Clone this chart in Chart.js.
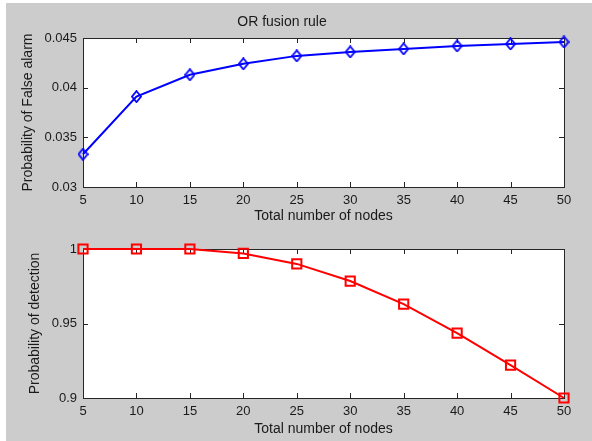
<!DOCTYPE html>
<html>
<head>
<meta charset="utf-8">
<title>OR fusion rule</title>
<script src="https://cdn.jsdelivr.net/npm/chart.js@4.4.0/dist/chart.umd.min.js"></script>
<style>
  html, body { margin: 0; padding: 0; background: #fff; }
  #fig { position: absolute; left: 6px; top: 3px; width: 586px; height: 438px; background: #cccccc; }
  canvas { position: absolute; left: 0; }
  #faChart { top: 0; }
  #pdChart { top: 232px; }
</style>
</head>
<body>
<div id="fig"></div>
<canvas id="faChart" width="592" height="232"></canvas>
<canvas id="pdChart" width="592" height="209"></canvas>
<script>
// number of sensor nodes
const nodes = [5, 10, 15, 20, 25, 30, 35, 40, 45, 50];
// probability of false alarm under the OR rule
const falseAlarm = [0.0333, 0.0391, 0.0413, 0.0424, 0.0432, 0.0436, 0.0439, 0.0442, 0.0444, 0.0446];
// probability of detection under the OR rule
const detection = [1.0, 1.0, 1.0, 0.997, 0.990, 0.9785, 0.963, 0.9435, 0.922, 0.900];

const xTicks = [5, 10, 15, 20, 25, 30, 35, 40, 45, 50];
const faTicks = [0.03, 0.035, 0.04, 0.045];
const pdTicks = [0.9, 0.95, 1];

const FAMILY = "'Liberation Sans', Arial, sans-serif";
const TICK_FONT = { family: FAMILY, size: 13 };
const LABEL_FONT = { family: FAMILY, size: 14, weight: "normal" };
const TEXT = "#1a1a1a";

// hollow diamond marker like MATLAB's 'd'
function diamondMarker(color) {
    const c = document.createElement("canvas");
    c.width = 11; c.height = 13;
    const g = c.getContext("2d");
    g.strokeStyle = color;
    g.lineWidth = 1.8;
    g.beginPath();
    g.moveTo(5.5, 1); g.lineTo(10, 6.5); g.lineTo(5.5, 12); g.lineTo(1, 6.5);
    g.closePath();
    g.stroke();
    return c;
}

// white plot box, frame and inward ticks on all four sides
const matlabAxes = {
    id: "matlabAxes",
    beforeDraw(chart) {
        const { ctx, chartArea: a } = chart;
        ctx.save();
        ctx.fillStyle = "#ffffff";
        ctx.fillRect(a.left, a.top, a.right - a.left, a.bottom - a.top);
        ctx.restore();
    },
    beforeDatasetsDraw(chart) {
        const { ctx, chartArea: a, scales: { x, y } } = chart;
        ctx.save();
        ctx.strokeStyle = "#262626";
        ctx.lineWidth = 1;
        ctx.beginPath();
        x.ticks.forEach(t => {
            const px = Math.round(x.getPixelForValue(t.value)) + 0.5;
            ctx.moveTo(px, a.bottom); ctx.lineTo(px, a.bottom - 5);
            ctx.moveTo(px, a.top); ctx.lineTo(px, a.top + 5);
        });
        y.ticks.forEach(t => {
            const py = Math.round(y.getPixelForValue(t.value)) + 0.5;
            ctx.moveTo(a.left, py); ctx.lineTo(a.left + 5, py);
            ctx.moveTo(a.right, py); ctx.lineTo(a.right - 5, py);
        });
        ctx.stroke();
        ctx.strokeRect(a.left + 0.5, a.top + 0.5, a.right - a.left, a.bottom - a.top);
        ctx.restore();
    }
};

function makeChart(id, values, color, marker, yTicks, opts) {
    return new Chart(document.getElementById(id), {
        type: "line",
        data: {
            datasets: [{
                data: nodes.map((n, i) => ({ x: n, y: values[i] })),
                borderColor: color,
                borderWidth: 2,
                pointStyle: marker,
                pointRadius: opts.pointRadius,
                pointBorderWidth: 2,
                pointBorderColor: color,
                pointBackgroundColor: "rgba(0,0,0,0)",
                tension: 0,
                clip: false
            }]
        },
        options: {
            responsive: false,
            animation: false,
            events: [],
            layout: { padding: { left: 0, right: 28, top: opts.padTop, bottom: 0 } },
            plugins: {
                legend: { display: false },
                tooltip: { enabled: false },
                title: opts.title ? {
                    display: true,
                    text: opts.title,
                    color: TEXT,
                    font: LABEL_FONT,
                    padding: { top: 13.6, bottom: 7.6 }
                } : { display: false }
            },
            scales: {
                x: {
                    type: "linear",
                    min: 5, max: 50,
                    grid: { display: false, drawTicks: false },
                    border: { display: false },
                    afterBuildTicks: s => { s.ticks = xTicks.map(v => ({ value: v })); },
                    afterFit: s => { s.height = opts.xHeight; },
                    ticks: { color: TEXT, font: TICK_FONT, padding: 6, maxRotation: 0, callback: v => String(v) },
                    title: { display: true, text: "Total number of nodes", color: TEXT, font: LABEL_FONT,
                             padding: { top: 0, bottom: opts.xTitlePad } }
                },
                y: {
                    min: yTicks[0], max: yTicks[yTicks.length - 1],
                    grid: { display: false, drawTicks: false },
                    border: { display: false },
                    afterBuildTicks: s => { s.ticks = yTicks.map(v => ({ value: v })); },
                    afterFit: s => { s.width = 83; },
                    ticks: { color: TEXT, font: TICK_FONT, padding: 6, callback: v => String(+v.toFixed(3)) },
                    title: { display: true, text: opts.yTitle, color: TEXT, font: LABEL_FONT,
                             padding: { top: opts.yTitlePad, bottom: 0 } }
                }
            }
        },
        plugins: [matlabAxes]
    });
}

makeChart("faChart", falseAlarm, "#0000ff", diamondMarker("#0000ff"), faTicks, {
    title: "OR fusion rule",
    padTop: 0,
    xHeight: 45,
    xTitlePad: 7.6,
    yTitle: "Probability of False alarm",
    yTitlePad: 19.5,
    pointRadius: 5.5
});

makeChart("pdChart", detection, "#ff0000", "rect", pdTicks, {
    padTop: 17,
    xHeight: 43,
    xTitlePad: 3.6,
    yTitle: "Probability of detection",
    yTitlePad: 26.5,
    pointRadius: 6.5
});
</script>
</body>
</html>
